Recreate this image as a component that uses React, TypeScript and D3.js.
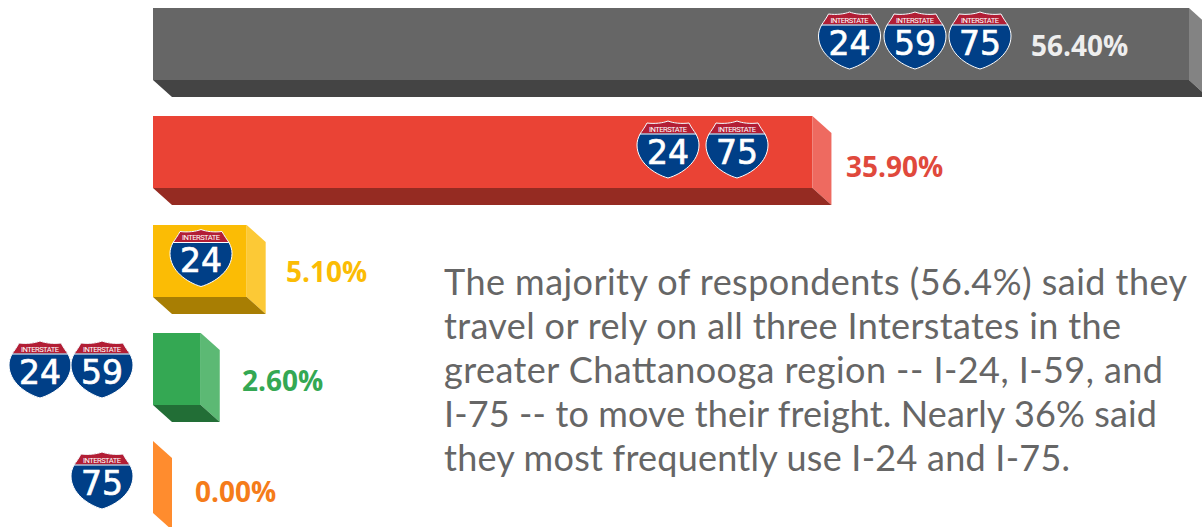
import React from "react";
import * as d3 from "d3";

const categories = ["all", "i24i75", "i24", "i24i59", "i75"];
const values = [56.4, 35.9, 5.1, 2.6, 0];
const valueLabels = ["56.40%", "35.90%", "5.10%", "2.60%", "0.00%"];
const routes = [["24", "59", "75"], ["24", "75"], ["24"], ["24", "59"], ["75"]];
const paragraph = [
  "The majority of respondents (56.4%) said they",
  "travel or rely on all three Interstates in the",
  "greater Chattanooga region -- I-24, I-59, and",
  "I-75 -- to move their freight. Nearly 36% said",
  "they most frequently use I-24 and I-75.",
];

const W = 1202, H = 527;
const front = ["#666666", "#ea4335", "#fbbc05", "#34a853", "#ff8c2e"];
const side = ["#838383", "#ee6a60", "#fcc936", "#5cb974", "#ff8c2e"];
const bottom = ["#444444", "#952b22", "#a87e03", "#226e36", "#ff8c2e"];
const labelColor = ["#eeeeee", "#e0493c", "#fbbc05", "#34a853", "#f57c1a"];
const labelX = [1031, 846, 286, 242, 195];
const labelDy = [48, 61, 57, 58, 61];
const shieldCx = [[849.5, 915, 980], [668, 737], [201], [40, 102], [102]];
const shieldTop = [12, 121, 229.5, 341, 452];
const lineWidths = [743, 677, 719, 713, 626];
const DX = 19, DY = 17, BAR_H = 72;

const x = d3.scaleLinear().domain([0, 56.4]).range([153, 1189]);
const y = d3.scaleBand().domain(categories).range([8, 513]).paddingInner(36.25 / 108.25).paddingOuter(0);
const poly = d3.line();

function Shield({ cx, top, n }: { cx: number; top: number; n: string }) {
  const path = "M-21,2 C-13,3 -5,2 0,0 C5,2 13,3 21,2 C23,6 26,10 28,13 C30,17 31,20 31,24 C31,41 14,53 0,57 C-14,53 -31,41 -31,24 C-31,20 -30,17 -28,13 C-26,10 -23,6 -21,2 Z";
  const clipId = `c${Math.round(cx)}-${Math.round(top)}`;
  return (
    <g transform={`translate(${cx},${top})`}>
      <clipPath id={clipId}><path d={path} /></clipPath>
      <g clipPath={`url(#${clipId})`}>
        <rect x={-32} y={0} width={64} height={60} fill="#003f87" />
        <rect x={-32} y={0} width={64} height={12.5} fill="#b21e35" />
        <rect x={-32} y={12.5} width={64} height={1} fill="#ffffff" />
      </g>
      <path d={path} fill="none" stroke="#ffffff" strokeWidth={1} />
      <text x={0} y={10.6} textAnchor="middle" fontFamily="'Liberation Sans Narrow','Roboto',sans-serif" fontSize={7.6} fill="#ffffff" textLength={38} lengthAdjust="spacing">INTERSTATE</text>
      <text x={0} y={42.5} textAnchor="middle" fontFamily="'DejaVu Sans',sans-serif" fontSize={33} fill="#ffffff" stroke="#ffffff" strokeWidth={0.7}>{n}</text>
    </g>
  );
}

export default function App() {
  return (
    <svg width={W} height={H} style={{ position: "absolute", left: 0, top: 0, background: "#fff" }}>
      {categories.map((c, i) => {
        const x0 = x(0), x1 = x(values[i]), y0 = Math.round(y(c)! + 0.05), y1 = y0 + BAR_H;
        return (
          <g key={c}>
            {i !== 4 && <rect x={x0} y={y0} width={x1 - x0} height={BAR_H} fill={front[i]} />}
            <path d={poly([[x1, y0], [x1 + DX, y0 + DY], [x1 + DX, y1 + DY], [x1, y1]])!} fill={side[i]} />
            {i !== 4 && <path d={poly([[x0, y1], [x1, y1], [x1 + DX, y1 + DY], [x0 + DX, y1 + DY]])!} fill={bottom[i]} />}
            {routes[i].map((n, k) => <Shield key={n} cx={shieldCx[i][k]} top={shieldTop[i]} n={n} />)}
            <text x={labelX[i]} y={y0 + labelDy[i]} fontFamily="'Open Sans',sans-serif" fontWeight={700} fontSize={28} fill={labelColor[i]}>{valueLabels[i]}</text>
          </g>
        );
      })}
      {paragraph.map((t, i) => (
        <text key={i} x={444} y={294.5 + i * 44} fontFamily="'Lato',sans-serif" fontSize={36} textLength={lineWidths[i]} lengthAdjust="spacing" fill="#666666">{t}</text>
      ))}
    </svg>
  );
}
